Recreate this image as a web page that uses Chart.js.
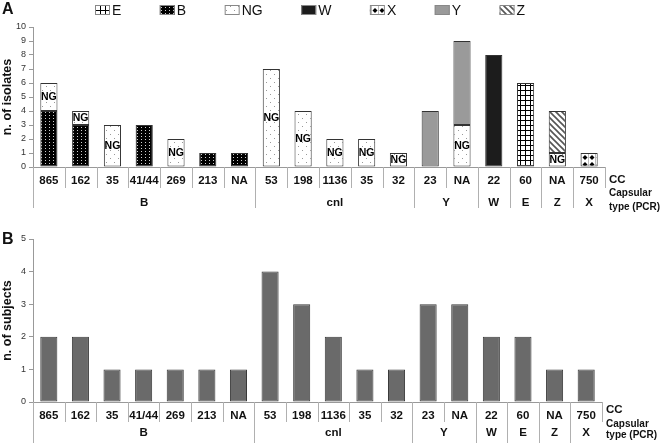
<!DOCTYPE html>
<html>
<head>
<meta charset="utf-8">
<script src="https://cdn.jsdelivr.net/npm/chart.js@4.4.1/dist/chart.umd.min.js"></script>
<style>
  html, body { margin: 0; padding: 0; background: #fff; }
  #wrap { position: relative; width: 660px; height: 443px; }
  canvas { position: absolute; left: 0; }
  #isolatesChart { top: 0; }
  #subjectsChart { top: 220px; }
</style>
</head>
<body>
<div id="wrap">
  <canvas id="isolatesChart" width="660" height="220"></canvas>
  <canvas id="subjectsChart" width="660" height="223"></canvas>
</div>
<script>
// Data
const ccLabels = ['865', '162', '35', '41/44', '269', '213', 'NA', '53', '198', '1136', '35', '32', '23', 'NA', '22', '60', 'NA', '750'];
const capsularGroups = ['B', 'cnl', 'Y', 'W', 'E', 'Z', 'X'];
const groupSizes = [7, 5, 2, 1, 1, 1, 1];

// panel A: isolates per capsular type (stacked)
const isolatesB  = [4, 3, 0, 3, 0, 1, 1, 0, 0, 0, 0, 0, 0, 0, 0, 0, 0, 0];
const isolatesNG = [2, 1, 3, 0, 2, 0, 0, 7, 4, 2, 2, 1, 0, 3, 0, 0, 1, 0];
const isolatesE  = [0, 0, 0, 0, 0, 0, 0, 0, 0, 0, 0, 0, 0, 0, 0, 6, 0, 0];
const isolatesW  = [0, 0, 0, 0, 0, 0, 0, 0, 0, 0, 0, 0, 0, 0, 8, 0, 0, 0];
const isolatesX  = [0, 0, 0, 0, 0, 0, 0, 0, 0, 0, 0, 0, 0, 0, 0, 0, 0, 1];
const isolatesY  = [0, 0, 0, 0, 0, 0, 0, 0, 0, 0, 0, 0, 4, 6, 0, 0, 0, 0];
const isolatesZ  = [0, 0, 0, 0, 0, 0, 0, 0, 0, 0, 0, 0, 0, 0, 0, 0, 3, 0];
const legendOrder = ['E', 'B', 'NG', 'W', 'X', 'Y', 'Z'];

// panel B: subjects
const subjects = [2, 2, 1, 1, 1, 1, 1, 4, 3, 2, 1, 1, 3, 3, 2, 2, 1, 1];
// End data

const FONT = 'Arial, "Liberation Sans", sans-serif';
const ctxA = document.getElementById('isolatesChart').getContext('2d');
const ctxB = document.getElementById('subjectsChart').getContext('2d');

function makePattern(w, h, draw) {
    const c = document.createElement('canvas');
    c.width = w;
    c.height = h;
    const g = c.getContext('2d');
    draw(g);
    return ctxA.createPattern(c, 'repeat');
}

const patB = makePattern(4, 3, g => {
    g.fillStyle = '#000'; g.fillRect(0, 0, 4, 3);
    g.fillStyle = '#cfcfcf'; g.fillRect(1, 1, 1, 1);
});
const patNG = makePattern(8, 8, g => {
    g.fillStyle = '#fff'; g.fillRect(0, 0, 8, 8);
    g.fillStyle = '#999'; g.fillRect(2, 2, 1, 1); g.fillRect(6, 6, 1, 1);
});
const patE = makePattern(5, 5, g => {
    g.fillStyle = '#fff'; g.fillRect(0, 0, 5, 5);
    g.fillStyle = '#000'; g.fillRect(0, 0, 5, 1); g.fillRect(0, 0, 1, 5);
});
const patZ = makePattern(6, 6, g => {
    g.fillStyle = '#fff'; g.fillRect(0, 0, 6, 6);
    g.strokeStyle = '#555'; g.lineWidth = 1.6;
    g.beginPath();
    g.moveTo(-1, -1); g.lineTo(7, 7);
    g.moveTo(-4, 2); g.lineTo(4, 10);
    g.moveTo(2, -4); g.lineTo(10, 4);
    g.stroke();
});
const patX = makePattern(7, 7, g => {
    g.fillStyle = '#fff'; g.fillRect(0, 0, 7, 7);
    g.fillStyle = '#bbb'; g.fillRect(0, 0, 1, 7);
    g.fillStyle = '#000';
    g.beginPath();
    g.moveTo(4, 1); g.lineTo(6.5, 3.5); g.lineTo(4, 6); g.lineTo(1.5, 3.5); g.closePath();
    g.fill();
});

const nz = arr => arr.map(v => v === 0 ? null : v);

function bar(label, data, fill) {
    return {
        label: label,
        data: nz(data),
        backgroundColor: fill,
        borderColor: '#333',
        borderWidth: 1,
        borderSkipped: false,
        categoryPercentage: 1,
        barPercentage: 0.54
    };
}

// lines + labels under the x axis (CC row and capsular type row)
const tableAxis = {
    id: 'tableAxis',
    afterDraw(chart, args, opts) {
        const { ctx, chartArea } = chart;
        const xs = chart.scales.x;
        const top = chartArea.bottom;
        const n = ccLabels.length;
        const edge = i => i === 0 ? chartArea.left : i === n ? chartArea.right
            : (xs.getPixelForValue(i - 1) + xs.getPixelForValue(i)) / 2;
        const bounds = [0];
        groupSizes.forEach(s => bounds.push(bounds[bounds.length - 1] + s));

        ctx.save();
        ctx.strokeStyle = '#b0b0b0';
        ctx.lineWidth = 1;
        for (let i = 0; i <= n; i++) {
            let len = bounds.includes(i) ? opts.groupLine : opts.cellLine;
            if (i === n) len = opts.cellLine;
            const px = Math.round(edge(i)) + 0.5;
            ctx.beginPath();
            ctx.moveTo(px, top);
            ctx.lineTo(px, top + len);
            ctx.stroke();
        }

        ctx.fillStyle = '#111';
        ctx.textAlign = 'center';
        ctx.textBaseline = 'middle';
        ctx.font = 'bold 11.5px ' + FONT;
        capsularGroups.forEach((name, g) => {
            const cx = (edge(bounds[g]) + edge(bounds[g + 1])) / 2;
            ctx.fillText(name, cx, top + opts.groupY);
        });

        ctx.textAlign = 'left';
        ctx.font = 'bold 11.5px ' + FONT;
        ctx.fillText('CC', chartArea.right + 4, top + opts.ccY);
        ctx.font = 'bold 10px ' + FONT;
        ctx.fillText('Capsular', chartArea.right + 4, top + opts.capY1);
        ctx.fillText('type (PCR)', chartArea.right + 4, top + opts.capY2);

        ctx.font = 'bold 16px ' + FONT;
        ctx.textBaseline = 'top';
        ctx.fillText(opts.letter, opts.letterX, opts.letterY);
        ctx.restore();
    }
};

const patternLegend = {
    id: 'patternLegend',
    afterDraw(chart, args, opts) {
        const ctx = chart.ctx;
        ctx.save();
        ctx.font = '14px ' + FONT;
        ctx.textBaseline = 'middle';
        let x = opts.x;
        legendOrder.forEach(name => {
            const ds = chart.data.datasets.find(d => d.label === name);
            ctx.fillStyle = ds.backgroundColor;
            ctx.fillRect(x, opts.y - 5, 15, 10);
            ctx.strokeStyle = '#888';
            ctx.lineWidth = 1;
            ctx.strokeRect(x + 0.5, opts.y - 4.5, 14, 9);
            ctx.fillStyle = '#111';
            ctx.fillText(name, x + 17, opts.y + 1);
            x += 17 + ctx.measureText(name).width + 38.5;
        });
        ctx.restore();
    }
};

const ngLabels = {
    id: 'ngLabels',
    afterDatasetsDraw(chart) {
        const idx = chart.data.datasets.findIndex(d => d.label === 'NG');
        if (idx < 0) return;
        const ctx = chart.ctx;
        const meta = chart.getDatasetMeta(idx);
        ctx.save();
        ctx.font = 'bold 10.5px ' + FONT;
        ctx.textAlign = 'center';
        ctx.textBaseline = 'middle';
        ctx.fillStyle = '#000';
        meta.data.forEach((el, i) => {
            if (!isolatesNG[i]) return;
            ctx.fillText('NG', el.x, (el.y + el.base) / 2 + 0.5);
        });
        ctx.restore();
    }
};

function scalesFor(max, title, xHeight) {
    return {
        x: {
            stacked: true,
            offset: true,
            grid: { display: false, drawTicks: false },
            border: { color: '#999' },
            ticks: {
                color: '#111',
                padding: 7,
                maxRotation: 0,
                autoSkip: false,
                font: { family: FONT, size: 11.5, weight: 'bold' }
            },
            afterFit: s => { s.height = xHeight; }
        },
        y: {
            stacked: true,
            min: 0,
            max: max,
            grid: { drawOnChartArea: false, tickLength: 4, color: '#999' },
            border: { color: '#999' },
            ticks: {
                stepSize: 1,
                padding: 3,
                color: '#333',
                font: { family: FONT, size: 9 }
            },
            title: {
                display: true,
                text: title,
                color: '#111',
                padding: { top: 0, bottom: 0 },
                font: { family: FONT, size: 12.5, weight: 'bold' }
            },
            afterFit: s => { s.width = 33; }
        }
    };
}

new Chart(ctxA, {
    type: 'bar',
    data: {
        labels: ccLabels,
        datasets: [
            bar('B', isolatesB, patB),
            bar('NG', isolatesNG, patNG),
            bar('E', isolatesE, patE),
            bar('W', isolatesW, '#1c1c1c'),
            bar('X', isolatesX, patX),
            bar('Y', isolatesY, '#9a9a9a'),
            bar('Z', isolatesZ, patZ)
        ]
    },
    options: {
        responsive: false,
        animation: false,
        layout: { padding: { top: 27, right: 55, bottom: 32, left: 0 } },
        scales: scalesFor(10, 'n. of isolates', 21),
        plugins: {
            legend: { display: false },
            tooltip: { enabled: false },
            tableAxis: { groupLine: 41, cellLine: 21, groupY: 36, ccY: 13, capY1: 26, capY2: 40, letter: 'A', letterX: 2, letterY: 2 },
            patternLegend: { x: 95, y: 10 }
        }
    },
    plugins: [tableAxis, patternLegend, ngLabels]
});

new Chart(ctxB, {
    type: 'bar',
    data: {
        labels: ccLabels,
        datasets: [{
            label: 'n. of subjects',
            data: subjects,
            backgroundColor: '#6a6a6a',
            borderColor: '#3a3a3a',
            borderWidth: 1,
            borderSkipped: false,
            categoryPercentage: 1,
            barPercentage: 0.54
        }]
    },
    options: {
        responsive: false,
        animation: false,
        layout: { padding: { top: 19, right: 58, bottom: 21, left: 0 } },
        scales: scalesFor(5, 'n. of subjects', 20),
        plugins: {
            legend: { display: false },
            tooltip: { enabled: false },
            tableAxis: { groupLine: 41, cellLine: 20, groupY: 31, ccY: 8, capY1: 22, capY2: 33, letter: 'B', letterX: 2, letterY: 12 }
        }
    },
    plugins: [tableAxis]
});
</script>
</body>
</html>
